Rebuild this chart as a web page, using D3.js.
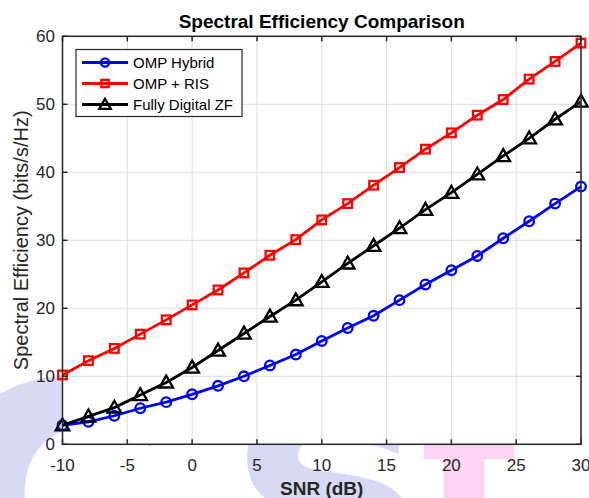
<!DOCTYPE html>
<html lang="en">
<head>
<meta charset="UTF-8">
<title>Spectral Efficiency Comparison</title>
<script src="https://d3js.org/d3.v7.min.js"></script>
<style>
  body { margin: 0; background: #fff; }
  svg { display: block; font-family: "Liberation Sans", Arial, sans-serif; }
</style>
</head>
<body>
<script>
// data
var snr = [-10, -8, -6, -4, -2, 0, 2, 4, 6, 8, 10, 12, 14, 16, 18, 20, 22, 24, 26, 28, 30];
var ompHybrid = [2.8, 3.3, 4.2, 5.3, 6.2, 7.35, 8.6, 10.0, 11.6, 13.2, 15.2, 17.1, 18.9, 21.2, 23.5, 25.6, 27.7, 30.3, 32.8, 35.4, 37.9];
var ompRis = [10.2, 12.3, 14.1, 16.2, 18.3, 20.5, 22.7, 25.2, 27.8, 30.1, 33.0, 35.4, 38.1, 40.7, 43.4, 45.8, 48.4, 50.7, 53.7, 56.3, 59.0];
var fullyDigital = [2.8, 4.1, 5.4, 7.25, 9.1, 11.3, 13.8, 16.3, 18.8, 21.2, 23.9, 26.6, 29.2, 31.8, 34.5, 37.0, 39.7, 42.4, 45.0, 47.8, 50.4];
var xTicks = [-10, -5, 0, 5, 10, 15, 20, 25, 30];
var yTicks = [0, 10, 20, 30, 40, 50, 60];

var series = [
  { name: "OMP Hybrid", values: ompHybrid, color: "#0000ff", marker: "circle" },
  { name: "OMP + RIS", values: ompRis, color: "#ff0000", marker: "square" },
  { name: "Fully Digital ZF", values: fullyDigital, color: "#000000", marker: "triangle" }
];

var width = 589, height = 498;
var pLeft = 62.5, pRight = 581, pTop = 36.3, pBottom = 444.3;
var axisColor = "#262626";

var svg = d3.select("body").append("svg").attr("width", width).attr("height", height);

// faint watermark behind the axes
var wm = svg.append("g").attr("font-family", "DejaVu Sans, sans-serif").attr("font-weight", "bold");
wm.append("text").attr("x", -70).attr("y", 610).attr("font-size", 420).attr("fill", "#d8daf5").text("c");
wm.append("text").attr("x", 230).attr("y", 585).attr("font-size", 330).attr("fill", "#d8daf5").text("s");
wm.append("text").attr("x", 420).attr("y", 590).attr("font-size", 300).attr("font-family", "Liberation Sans, sans-serif")
  .attr("fill", "#fad6f0").text("t");

var x = d3.scaleLinear().domain([-10, 30]).range([pLeft, pRight]);
var y = d3.scaleLinear().domain([0, 60]).range([pBottom, pTop]);

svg.append("rect").attr("x", pLeft).attr("y", pTop)
  .attr("width", pRight - pLeft).attr("height", pBottom - pTop).attr("fill", "#fff");

// grid
svg.append("g").selectAll("line").data(xTicks).enter().append("line")
  .attr("x1", d => x(d)).attr("x2", d => x(d)).attr("y1", pTop).attr("y2", pBottom)
  .attr("stroke", "#dcdcdc").attr("stroke-width", 1);
svg.append("g").selectAll("line").data(yTicks).enter().append("line")
  .attr("x1", pLeft).attr("x2", pRight).attr("y1", d => y(d)).attr("y2", d => y(d))
  .attr("stroke", "#dcdcdc").attr("stroke-width", 1);

function drawMarker(g, type, cx, cy, color, s) {
  if (type === "circle") {
    g.append("circle").attr("cx", cx).attr("cy", cy).attr("r", 4.8 * s)
      .attr("fill", "none").attr("stroke", color).attr("stroke-width", 2.3);
  } else if (type === "square") {
    var h = 4.3 * s;
    g.append("rect").attr("x", cx - h).attr("y", cy - h).attr("width", 2 * h).attr("height", 2 * h)
      .attr("fill", "none").attr("stroke", color).attr("stroke-width", 2.3);
  } else {
    var r = 6.8 * s;
    g.append("path")
      .attr("d", "M" + cx + "," + (cy - r) + "L" + (cx + r) + "," + (cy + r * 0.75) + "L" + (cx - r) + "," + (cy + r * 0.75) + "Z")
      .attr("fill", "none").attr("stroke", color).attr("stroke-width", 2.3);
  }
}

var line = d3.line().x((d, i) => x(snr[i])).y(d => y(d));

series.forEach(function(s) {
  var g = svg.append("g");
  g.append("path").datum(s.values).attr("d", line)
    .attr("fill", "none").attr("stroke", s.color).attr("stroke-width", 2.8);
  s.values.forEach(function(v, i) {
    drawMarker(g, s.marker, x(snr[i]), y(v), s.color, 1);
  });
});

// axes box with inward ticks on all sides
var ax = svg.append("g").attr("stroke", axisColor).attr("stroke-width", 1.5);
ax.append("rect").attr("x", pLeft).attr("y", pTop).attr("width", pRight - pLeft).attr("height", pBottom - pTop)
  .attr("fill", "none");
xTicks.forEach(function(t) {
  ax.append("line").attr("x1", x(t)).attr("x2", x(t)).attr("y1", pBottom).attr("y2", pBottom - 5);
  ax.append("line").attr("x1", x(t)).attr("x2", x(t)).attr("y1", pTop).attr("y2", pTop + 5);
});
yTicks.forEach(function(t) {
  ax.append("line").attr("x1", pLeft).attr("x2", pLeft + 5).attr("y1", y(t)).attr("y2", y(t));
  ax.append("line").attr("x1", pRight).attr("x2", pRight - 5).attr("y1", y(t)).attr("y2", y(t));
});

svg.append("g").selectAll("text").data(xTicks).enter().append("text")
  .attr("x", d => x(d)).attr("y", 470.5).attr("text-anchor", "middle")
  .attr("font-size", 17).attr("fill", axisColor).text(d => d);
svg.append("g").selectAll("text").data(yTicks).enter().append("text")
  .attr("x", 55).attr("y", d => y(d) + 6).attr("text-anchor", "end")
  .attr("font-size", 17).attr("fill", axisColor).text(d => d);

// labels
svg.append("text").attr("x", (pLeft + pRight) / 2).attr("y", 28).attr("text-anchor", "middle")
  .attr("font-size", 19).attr("font-weight", "bold").attr("fill", "#000").text("Spectral Efficiency Comparison");
svg.append("text").attr("x", (pLeft + pRight) / 2).attr("y", 495).attr("text-anchor", "middle")
  .attr("font-size", 19).attr("font-weight", "bold").attr("fill", axisColor).text("SNR (dB)");
svg.append("text").attr("transform", "translate(28," + ((pTop + pBottom) / 2) + ") rotate(-90)")
  .attr("text-anchor", "middle").attr("font-size", 20).attr("fill", axisColor)
  .text("Spectral Efficiency (bits/s/Hz)");

// legend
var lg = svg.append("g");
lg.append("rect").attr("x", 76).attr("y", 49.5).attr("width", 166).attr("height", 67)
  .attr("fill", "#fff").attr("stroke", axisColor).attr("stroke-width", 1.2);
series.forEach(function(s, i) {
  var ly = 62.5 + i * 21;
  lg.append("line").attr("x1", 82).attr("x2", 128).attr("y1", ly).attr("y2", ly)
    .attr("stroke", s.color).attr("stroke-width", 2.8);
  drawMarker(lg, s.marker, 105, ly, s.color, 0.85);
  lg.append("text").attr("x", 133).attr("y", ly + 5.5).attr("font-size", 15).attr("fill", "#000").text(s.name);
});
</script>
</body>
</html>
